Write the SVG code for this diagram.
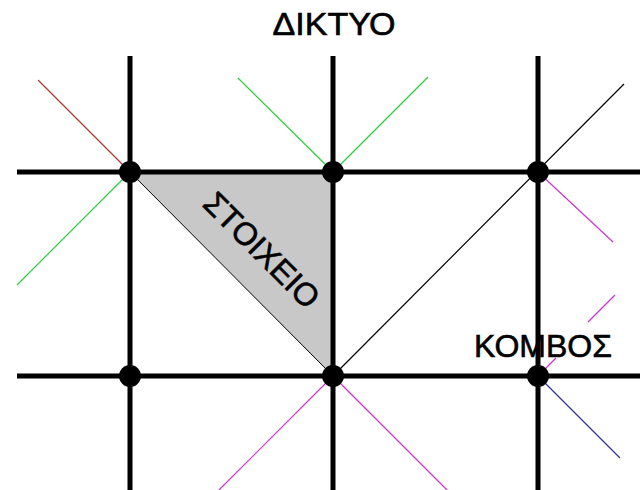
<svg xmlns="http://www.w3.org/2000/svg" width="640" height="490" viewBox="0 0 640 490">
<style>
.grid{stroke:#000;stroke-width:5;fill:none}
.diag{stroke-width:1.2;fill:none}
.node{fill:#000}
.lbl{font-family:"Liberation Sans",Arial,sans-serif;font-size:32px;fill:#000;stroke:#000;stroke-width:0.6}
</style>
<rect width="640" height="490" fill="#fff"/>
<g id="element">
<polygon points="130,172 333,172 333,376" fill="#c8c8c8" stroke="#000" stroke-width="1"/>
<text class="lbl" text-anchor="middle" transform="translate(254,258) rotate(45)">ΣΤΟΙΧΕΙΟ</text>
</g>
<g id="connectors">
<line class="diag" x1="130" y1="172" x2="38" y2="80" stroke="#b03a2e"/>
<line class="diag" x1="130" y1="172" x2="17" y2="285" stroke="#2ecc40"/>
<line class="diag" x1="333" y1="172" x2="238" y2="78" stroke="#2ecc40"/>
<line class="diag" x1="333" y1="172" x2="428" y2="77" stroke="#2ecc40"/>
<line class="diag" x1="333" y1="376" x2="624" y2="84" stroke="#000"/>
<line class="diag" x1="538" y1="172" x2="613" y2="242" stroke="#cc33cc"/>
<line class="diag" x1="538" y1="376" x2="556" y2="358" stroke="#cc33cc"/>
<line class="diag" x1="588" y1="322" x2="615" y2="295" stroke="#cc33cc"/>
<line class="diag" x1="538" y1="376" x2="620" y2="458" stroke="#333399"/>
<line class="diag" x1="333" y1="376" x2="219" y2="490" stroke="#cc33cc"/>
<line class="diag" x1="333" y1="376" x2="447" y2="490" stroke="#cc33cc"/>
<line class="grid" x1="130" y1="56" x2="130" y2="490"/>
<line class="grid" x1="333" y1="56" x2="333" y2="490"/>
<line class="grid" x1="538" y1="56" x2="538" y2="490"/>
<line class="grid" x1="17" y1="172" x2="640" y2="172"/>
<line class="grid" x1="17" y1="376" x2="640" y2="376"/>
</g>
<g id="node-1"><circle class="node" cx="130" cy="172" r="11"/></g>
<g id="node-2"><circle class="node" cx="333" cy="172" r="11"/></g>
<g id="node-3"><circle class="node" cx="538" cy="172" r="11"/></g>
<g id="node-4"><circle class="node" cx="130" cy="376" r="11"/></g>
<g id="node-5"><circle class="node" cx="333" cy="376" r="11"/></g>
<g id="node-6"><circle class="node" cx="538" cy="376" r="11"/></g>
<g id="title"><text class="lbl" x="334" y="35" text-anchor="middle" textLength="123" lengthAdjust="spacingAndGlyphs">ΔΙΚΤΥΟ</text></g>
<g id="node-label"><text class="lbl" x="543" y="357" text-anchor="middle">ΚΟΜΒΟΣ</text></g>
</svg>
